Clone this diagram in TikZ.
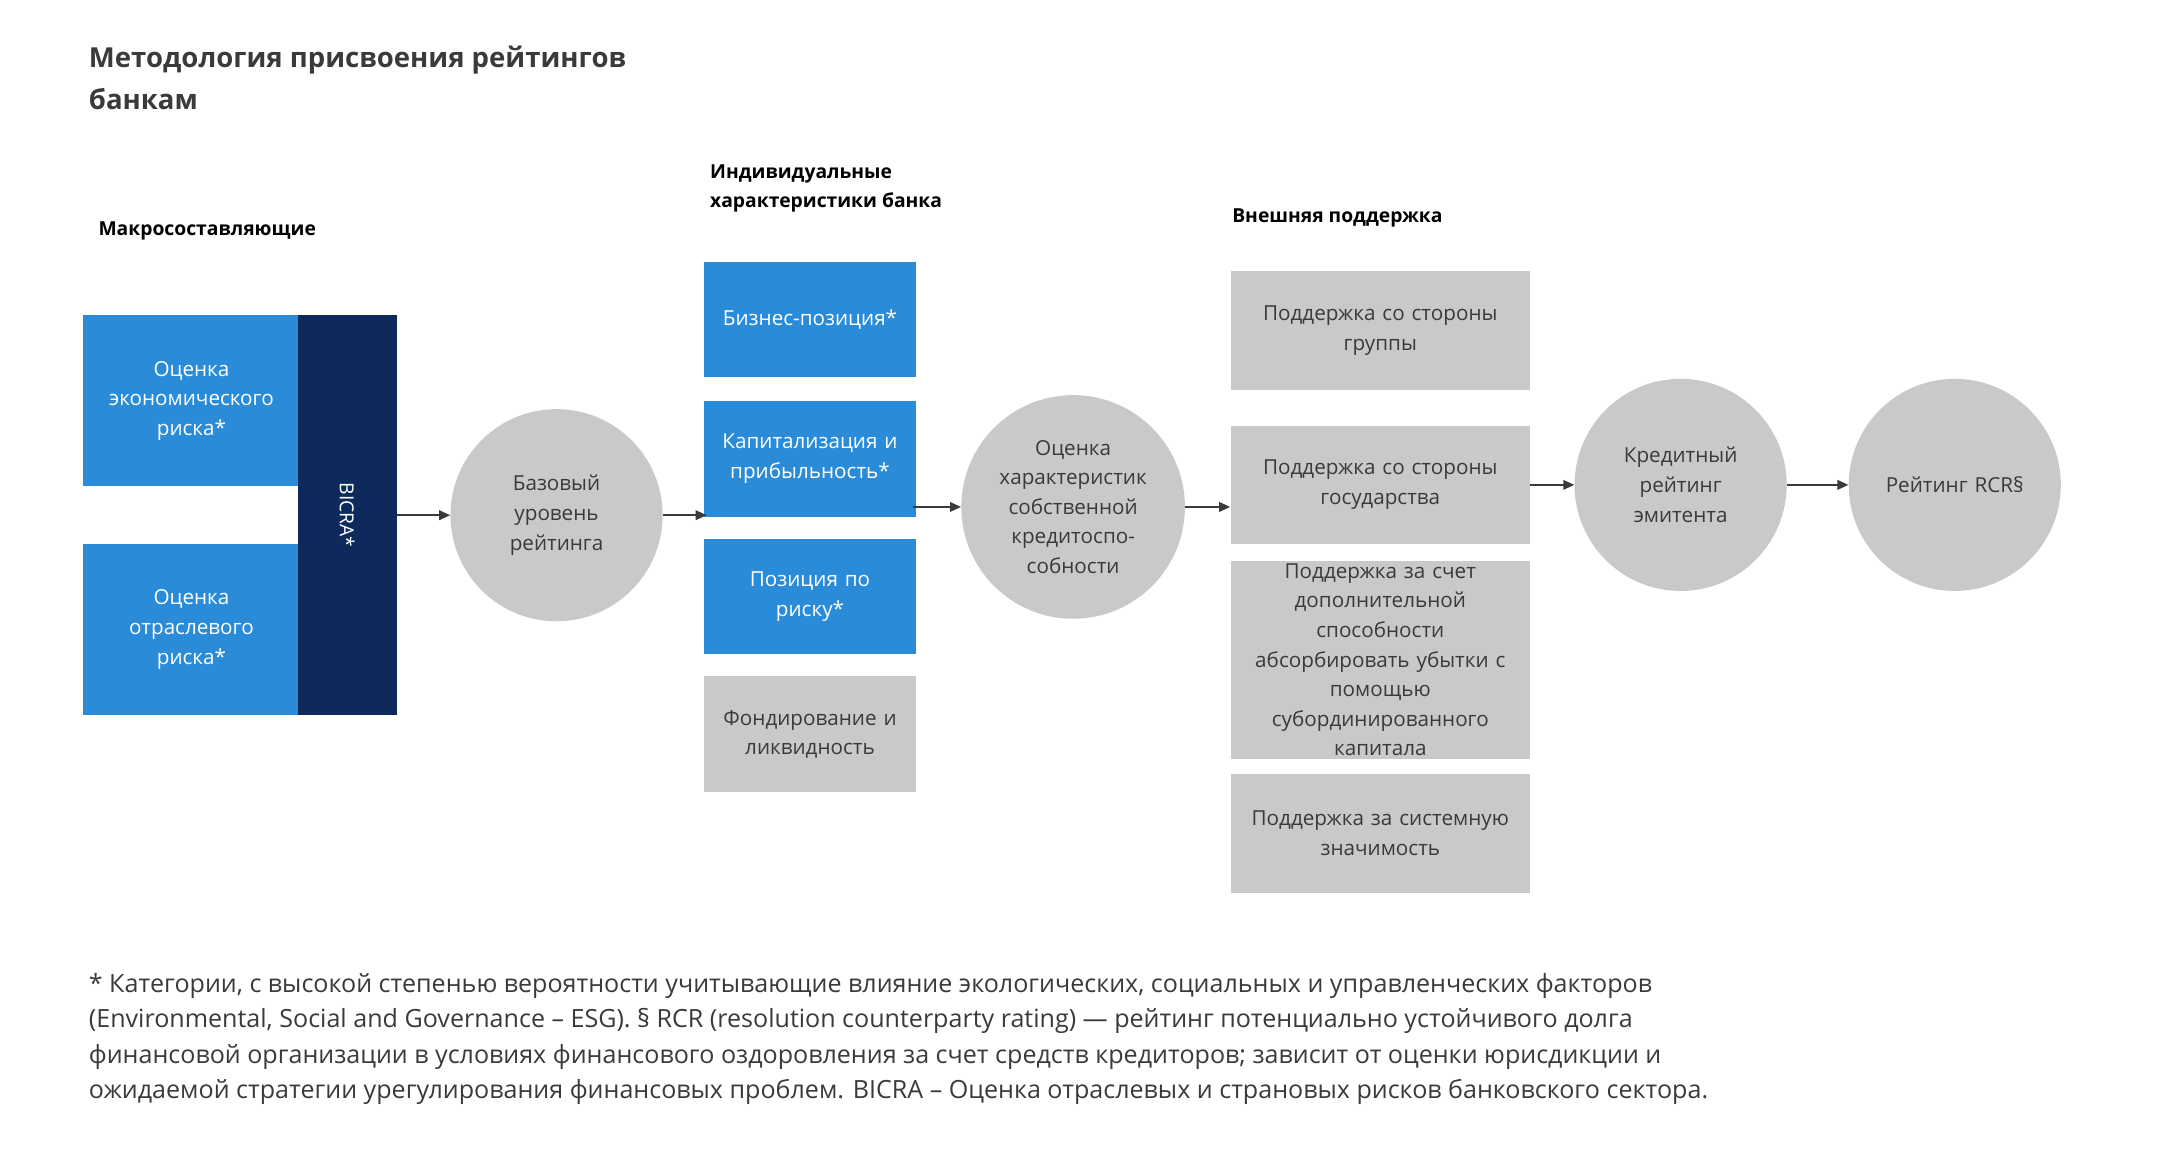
\documentclass[tikz,border=0pt]{standalone}
\usepackage{fontspec}
\setmainfont{Open Sans}
\usetikzlibrary{arrows.meta}
\definecolor{bl}{HTML}{2A8BD8}
\definecolor{nv}{HTML}{0E2A5C}
\definecolor{gr}{HTML}{C9C9C9}
\definecolor{tx}{HTML}{3A3A3A}
\begin{document}
\begin{tikzpicture}[x=1pt,y=-1pt,
 box/.style={draw=none,minimum width=#1,inner sep=2pt,align=center,font=\fontsize{15}{21.5}\selectfont},
 bb/.style={box=150,fill=bl,text=white,minimum height=84,text width=150},
 gb/.style={box=217,fill=gr,text=tx,minimum height=86,text width=212},
 circ/.style={circle,fill=gr,minimum size=154,inner sep=0,text=tx,align=center,font=\fontsize{15}{21.5}\selectfont,text width=130},
 hd/.style={anchor=west,font=\bfseries\fontsize{14}{21}\selectfont,align=left,text=black},
 ar/.style={draw=tx,line width=1.2pt,-{Triangle[length=8pt,width=7pt]}}]
\useasboundingbox (0,0) rectangle (1568,837);
\node[anchor=north west,font=\bfseries\fontsize{20}{30}\selectfont,align=left,text=tx] (t) at (61,30) {Методология присвоения рейтингов\\банкам};
\node[hd] (h1) at (68,168) {Макросоставляющие};
\node[hd] (h2) at (512,137) {Индивидуальные\\характеристики банка};
\node[hd] (h3) at (891,158) {Внешняя поддержка};
% macro
\node[box=154,fill=bl,text=white,minimum height=124,text width=154] (e) at (139,291) {Оценка\\экономического\\риска*};
\node[box=154,fill=bl,text=white,minimum height=124,text width=154] (o) at (139,457) {Оценка\\отраслевого\\риска*};
\node[fill=nv,minimum width=72,minimum height=290,inner sep=0] (b) at (252,374) {};
\node[text=white,rotate=-90,font=\fontsize{14}{16}\selectfont] (bt) at (b) {BICRA*};
\node[circ] (c1) at (404,374) {Базовый\\уровень\\рейтинга};
% col2
\node[bb] (k1) at (588,232) {Бизнес-позиция*};
\node[bb] (k2) at (588,333) {Капитализация и\\прибыльность*};
\node[bb] (k3) at (588,433) {Позиция по\\риску*};
\node[bb,fill=gr,text=tx] (k4) at (588,533) {Фондирование и\\ликвидность};
\coordinate (k2in) at (513,374);
\coordinate (k2out) at (663,368);
\node[circ] (c2) at (779,368) {Оценка\\характеристик\\собственной\\кредитоспо-\\собности};
% col3
\node[gb] (s1) at (1002,240) {Поддержка со стороны\\группы};
\node[gb] (s2) at (1002,352) {Поддержка со стороны\\государства};
\node[gb,minimum height=139] (s3) at (1002,479) {Поддержка за счет\\дополнительной\\способности\\абсорбировать убытки с\\помощью\\субординированного\\капитала};
\node[gb] (s4) at (1002,605) {Поддержка за системную\\значимость};
\coordinate (s2in) at (893,368);
\node[circ] (c3) at (1220,352) {Кредитный\\рейтинг\\эмитента};
\node[circ] (c4) at (1419,352) {Рейтинг RCR§};
\draw[ar] (b.east |- c1) -- (c1);
\draw[ar] (c1) -- (k2in);
\draw[ar] (k2out) -- (c2);
\draw[ar] (c2) -- (s2in);
\draw[ar] (s2) -- (c3);
\draw[ar] (c3) -- (c4);
\node[anchor=north west,text=tx,align=left,font=\fontsize{18.2}{25.8}\selectfont] (f) at (61,703) {* Категории, с высокой степенью вероятности учитывающие влияние экологических, социальных и управленческих факторов\\(Environmental, Social and Governance – ESG). § RCR (resolution counterparty rating) — рейтинг потенциально устойчивого долга\\финансовой организации в условиях финансового оздоровления за счет средств кредиторов; зависит от оценки юрисдикции и\\ожидаемой стратегии урегулирования финансовых проблем. BICRA – Оценка отраслевых и страновых рисков банковского сектора.};
\end{tikzpicture}
\end{document}
